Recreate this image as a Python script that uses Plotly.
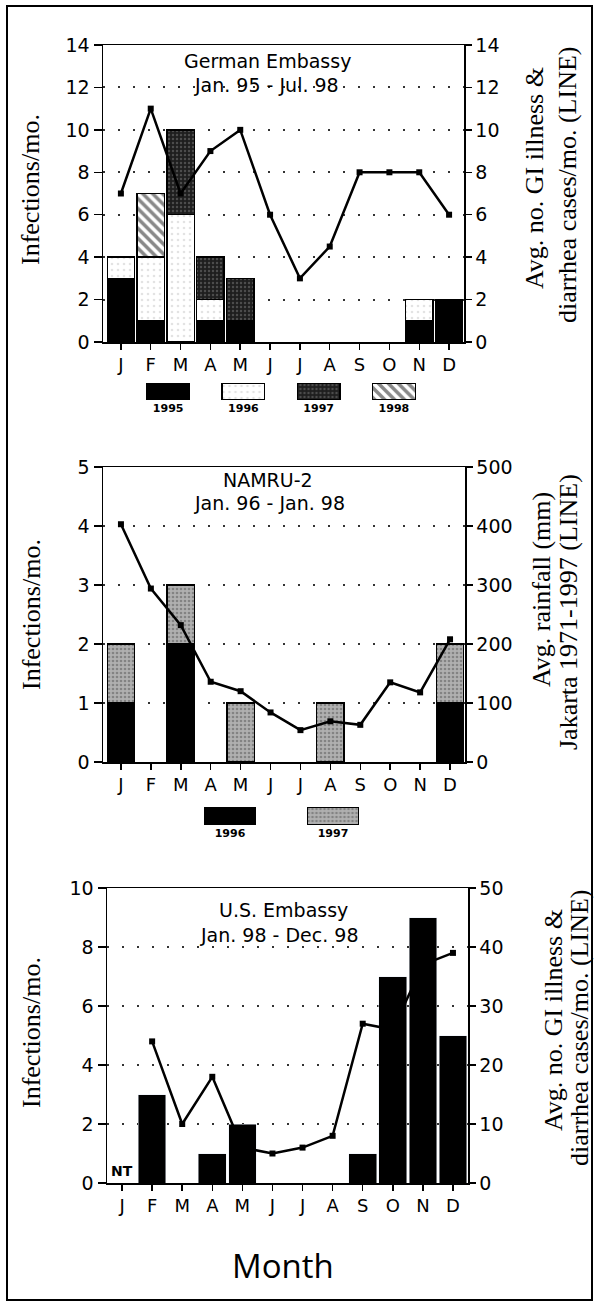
import plotly.graph_objects as go

# ---------------- data ----------------
months = ["J", "F", "M", "A", "M", "J", "J", "A", "S", "O", "N", "D"]

# Panel 1: German Embassy, infections by year (stacked) + GI illness line
ge_years = ["1995", "1996", "1997", "1998"]
ge_1995 = [3, 1, 0, 1, 1, 0, 0, 0, 0, 0, 1, 2]
ge_1996 = [1, 3, 6, 1, 0, 0, 0, 0, 0, 0, 1, 0]
ge_1997 = [0, 0, 4, 2, 2, 0, 0, 0, 0, 0, 0, 0]
ge_1998 = [0, 3, 0, 0, 0, 0, 0, 0, 0, 0, 0, 0]
ge_gi = [7, 11, 7, 9, 10, 6, 3, 4.5, 8, 8, 8, 6]

# Panel 2: NAMRU-2, infections by year (stacked) + rainfall line
nm_years = ["1996", "1997"]
nm_1996 = [1, 0, 2, 0, 0, 0, 0, 0, 0, 0, 0, 1]
nm_1997 = [1, 0, 1, 0, 1, 0, 0, 1, 0, 0, 0, 1]
nm_rain = [403, 294, 232, 136, 120, 84, 54, 69, 63, 135, 118, 208]

# Panel 3: U.S. Embassy infections + GI illness line (Jan not tested)
us_inf = [0, 3, 0, 1, 2, 0, 0, 0, 1, 7, 9, 5]
us_gi = [None, 24, 10, 18, 6, 5, 6, 8, 27, 26, 37, 39]

# ---------------- layout helpers ----------------
W, H = 598, 1306
SANS = "DejaVu Sans, Verdana, sans-serif"
SERIF = "Liberation Serif, Times New Roman, serif"
xidx = list(range(len(months)))


def px_x(p):
    return p / W


def px_y(p):
    return 1 - p / H


def nz(v):
    return [None if a == 0 else a for a in v]


def xaxis_cfg(left, right, anchor, rng):
    return dict(domain=[px_x(left), px_x(right)], anchor=anchor, range=rng,
                automargin=False,
                tickmode="array", tickvals=xidx, ticktext=months,
                ticks="outside", ticklen=6, tickwidth=1.5, tickcolor="black",
                showline=True, linecolor="black", linewidth=1.5, mirror=True,
                showgrid=False, zeroline=False,
                tickfont=dict(family=SANS, size=18, color="black"))


def yleft_cfg(top, bottom, anchor, rng, dtick):
    return dict(domain=[px_y(bottom), px_y(top)], anchor=anchor, range=rng,
                automargin=False,
                dtick=dtick, ticks="outside", ticklen=8, tickwidth=1.5,
                tickcolor="black", showline=True, linecolor="black",
                linewidth=1.5, showgrid=True, gridcolor="#333",
                griddash="2px,13px", gridwidth=2, zeroline=False,
                tickfont=dict(family=SANS, size=19, color="black"))


def yright_cfg(anchor, overlay, rng, dtick):
    return dict(anchor=anchor, overlaying=overlay, side="right", range=rng,
                automargin=False,
                dtick=dtick, ticks="outside", ticklen=6, tickwidth=1.5,
                tickcolor="black", showline=True, linecolor="black",
                linewidth=1.5, showgrid=False, zeroline=False,
                tickfont=dict(family=SANS, size=19, color="black"))


def legend_x(left, right, anchor, cats):
    return dict(domain=[px_x(left), px_x(right)], anchor=anchor,
                automargin=False,
                type="category", range=[-0.5, len(cats) - 0.5],
                tickmode="array", tickvals=cats,
                ticktext=["<b>%s</b>" % c for c in cats],
                ticks="", showline=False, showgrid=False, zeroline=False,
                tickfont=dict(family=SANS, size=11, color="black"))


def legend_y(top, bottom, anchor):
    return dict(domain=[px_y(bottom), px_y(top)], anchor=anchor,
                automargin=False, range=[0, 1], visible=False)


OUT = dict(color="black", width=1.3)
styles = {
    "ge1995": dict(color="black", line=OUT),
    "ge1996": dict(color="white", line=OUT,
                   pattern=dict(shape=".", fgcolor="#c8c8c8", size=6,
                                solidity=0.15, fillmode="overlay")),
    "ge1997": dict(color="#1e1e1e", line=OUT,
                   pattern=dict(shape=".", fgcolor="#7a7a7a", size=4,
                                solidity=0.3, fillmode="overlay")),
    "ge1998": dict(color="white", line=OUT,
                   pattern=dict(shape="\\", fgcolor="#111", size=7,
                                solidity=0.5, fillmode="overlay")),
    "nm1996": dict(color="black", line=OUT),
    "nm1997": dict(color="#b0b0b0", line=OUT,
                   pattern=dict(shape=".", fgcolor="#555", size=4,
                                solidity=0.35, fillmode="overlay")),
}

LINE = dict(color="black", width=2.5)
MARK = dict(symbol="square", size=6, color="black")

fig = go.Figure()

# ---------------- panel 1 ----------------
for vals, key in [(ge_1995, "ge1995"), (ge_1996, "ge1996"),
                  (ge_1997, "ge1997"), (ge_1998, "ge1998")]:
    fig.add_trace(go.Bar(x=xidx, y=nz(vals), marker=styles[key],
                         xaxis="x", yaxis="y"))
fig.add_trace(go.Scatter(x=xidx, y=ge_gi, mode="lines+markers", line=LINE,
                         marker=MARK, xaxis="x", yaxis="y2"))

# ---------------- panel 2 ----------------
for vals, key in [(nm_1996, "nm1996"), (nm_1997, "nm1997")]:
    fig.add_trace(go.Bar(x=xidx, y=nz(vals), marker=styles[key],
                         xaxis="x2", yaxis="y3"))
fig.add_trace(go.Scatter(x=xidx, y=nm_rain, mode="lines+markers", line=LINE,
                         marker=MARK, xaxis="x2", yaxis="y4"))

# ---------------- panel 3 ----------------
fig.add_trace(go.Bar(x=xidx, y=nz(us_inf), marker=dict(color="black"),
                     xaxis="x3", yaxis="y5"))
fig.add_trace(go.Scatter(x=xidx, y=us_gi, mode="lines+markers", line=LINE,
                         marker=MARK, xaxis="x3", yaxis="y6"))

# ---------------- legends (swatches drawn as bars) ----------------
for yr, key in zip(ge_years, ["ge1995", "ge1996", "ge1997", "ge1998"]):
    fig.add_trace(go.Bar(x=[yr], y=[1], width=0.57, marker=styles[key],
                         xaxis="x4", yaxis="y7"))
for yr, key in zip(nm_years, ["nm1996", "nm1997"]):
    fig.add_trace(go.Bar(x=[yr], y=[1], width=0.5, marker=styles[key],
                         xaxis="x5", yaxis="y8"))

fig.update_layout(
    width=W, height=H,
    margin=dict(l=0, r=0, t=0, b=0, pad=0, autoexpand=False),
    paper_bgcolor="white", plot_bgcolor="white",
    showlegend=False, barmode="stack", bargap=0.08,
    xaxis=xaxis_cfg(103, 464, "y", [-0.6, 11.5]),
    yaxis=yleft_cfg(45, 342, "x", [0, 14], 2),
    yaxis2=yright_cfg("x", "y", [0, 14], 2),
    xaxis2=xaxis_cfg(103, 465, "y3", [-0.6, 11.5]),
    yaxis3=yleft_cfg(467, 762, "x2", [0, 5], 1),
    yaxis4=yright_cfg("x2", "y3", [0, 500], 100),
    xaxis3=xaxis_cfg(107, 468, "y5", [-0.5, 11.5]),
    yaxis5=yleft_cfg(888, 1183, "x3", [0, 10], 2),
    yaxis6=yright_cfg("x3", "y5", [0, 50], 10),
    xaxis4=legend_x(130.5, 431.5, "y7", ge_years),
    yaxis7=legend_y(383, 400, "x4"),
    xaxis5=legend_x(178.5, 384.5, "y8", nm_years),
    yaxis8=legend_y(807, 825, "x5"),
)

# ---------------- texts ----------------
ann = []


def text(s, x, y, size, family=SANS, angle=0):
    ann.append(dict(text=s, x=px_x(x), y=px_y(y), xref="paper", yref="paper",
                    xanchor="center", yanchor="middle", showarrow=False,
                    textangle=angle,
                    font=dict(family=family, size=size, color="black")))


# panel titles
text("German Embassy", 267, 61, 19)
text("Jan. 95 - Jul. 98", 266, 85, 19)
text("NAMRU-2", 268, 480, 19)
text("Jan. 96 - Jan. 98", 269, 503, 19)
text("U.S. Embassy", 283, 910, 19)
text("Jan. 98 - Dec. 98", 279, 935, 19)

# left axis titles
for yc in (190, 615, 1033):
    text("Infections/mo.", 31, yc, 26, SERIF, -90)

# right axis titles
text("Avg. no. GI illness &", 534, 178, 26, SERIF, -90)
text("diarrhea cases/mo. (LINE)", 568, 185, 26, SERIF, -90)
text("Avg. rainfall (mm)", 542, 590, 26, SERIF, -90)
text("Jakarta 1971-1997 (LINE)", 568, 612, 26, SERIF, -90)
text("Avg. no. GI illness &", 553, 1020, 26, SERIF, -90)
text("diarrhea cases/mo. (LINE)", 579, 1028, 26, SERIF, -90)

# NT marker for January (not tested)
text("<b>NT</b>", 122, 1171, 14)

# shared x title
text("Month", 283, 1265, 33, "Open Sans, Noto Sans, sans-serif")

fig.update_layout(annotations=ann)

# outer frame
fig.add_shape(type="rect", xref="paper", yref="paper",
              x0=px_x(7), x1=px_x(592), y0=px_y(1300), y1=px_y(6),
              line=dict(color="black", width=2), fillcolor="rgba(0,0,0,0)")

fig.write_html(
    "out.html",
    config={"displayModeBar": False, "staticPlot": True},
    post_script=(
        "document.body.style.margin='0';"
        "document.body.style.overflow='hidden';"
        "var d=document.getElementById('{plot_id}');"
        "d.style.position='fixed';d.style.top='0px';d.style.left='0px';"
    ),
)
